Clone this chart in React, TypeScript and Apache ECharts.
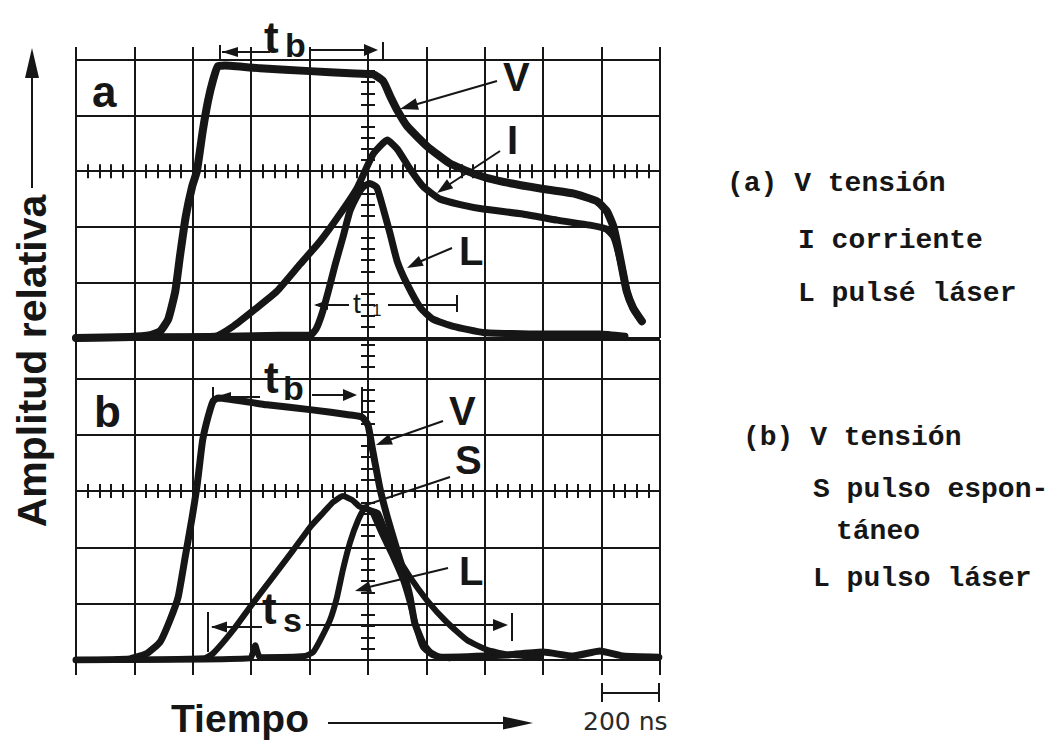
import React, { useEffect, useRef } from "react";
import * as echarts from "echarts";

type P = [number, number];

// x in graticule divisions from the centre line (-5..5), y in divisions from the centre line
const voltageA: P[] = [[-5.0,-3.0],[-4.08,-2.98],[-3.73,-2.95],[-3.56,-2.88],[-3.42,-2.66],[-3.3,-2.16],[-3.22,-1.53],[-3.12,-0.81],[-3.01,-0.27],[-2.93,0.0],[-2.83,0.72],[-2.74,1.26],[-2.65,1.65],[-2.57,1.89],[-2.45,1.9],[-1.85,1.85],[-0.99,1.8],[-0.31,1.76],[0.09,1.74],[0.26,1.62],[0.38,1.35],[0.51,1.08],[0.67,0.81],[1.01,0.45],[1.4,0.14],[1.8,-0.04],[2.26,-0.18],[2.95,-0.31],[3.51,-0.4],[3.92,-0.54],[4.09,-0.72],[4.2,-0.99],[4.26,-1.26],[4.35,-1.74],[4.43,-2.16],[4.54,-2.46],[4.69,-2.7]];
const currentA: P[] = [[-5.0,-3.0],[-3.73,-2.98],[-2.62,-2.97],[-2.31,-2.79],[-1.93,-2.48],[-1.56,-2.16],[-1.16,-1.67],[-0.82,-1.26],[-0.48,-0.77],[-0.19,-0.31],[0.09,0.31],[0.33,0.56],[0.5,0.4],[0.72,0.04],[0.94,-0.27],[1.23,-0.5],[1.58,-0.6],[1.97,-0.68],[2.65,-0.77],[3.24,-0.88],[3.8,-0.97],[4.08,-1.04],[4.2,-1.17],[4.26,-1.35],[4.35,-1.74],[4.43,-2.16],[4.54,-2.46],[4.66,-2.66]];
const laserA: P[] = [[-5.0,-3.0],[-2.88,-2.98],[-1.51,-2.95],[-0.99,-2.95],[-0.89,-2.84],[-0.79,-2.57],[-0.68,-2.16],[-0.57,-1.71],[-0.43,-1.19],[-0.31,-0.72],[-0.19,-0.45],[-0.09,-0.29],[0.03,-0.22],[0.15,-0.29],[0.26,-0.67],[0.38,-1.13],[0.5,-1.62],[0.67,-2.03],[0.9,-2.46],[1.11,-2.66],[1.46,-2.79],[1.97,-2.9],[2.95,-2.93],[3.97,-2.93],[4.4,-2.97]];
const voltageB: P[] = [[-5.0,-3.0],[-4.08,-2.98],[-3.78,-2.88],[-3.56,-2.68],[-3.39,-2.29],[-3.25,-1.88],[-3.13,-1.17],[-3.01,-0.46],[-2.93,0.07],[-2.88,0.5],[-2.83,0.91],[-2.74,1.31],[-2.65,1.6],[-2.57,1.65],[-1.73,1.53],[-0.96,1.44],[-0.31,1.35],[-0.1,1.31],[0.0,1.17],[0.07,0.78],[0.12,0.5],[0.21,0.02],[0.33,-0.46],[0.46,-0.92],[0.6,-1.4],[0.72,-1.88],[0.8,-2.34],[0.94,-2.7],[1.06,-2.86],[1.23,-2.95],[2.38,-2.91],[3.0,-2.86],[3.51,-2.93],[3.97,-2.84],[4.37,-2.93],[4.98,-2.95]];
const spontaneousB: P[] = [[-5.0,-3.0],[-2.8,-2.97],[-2.65,-2.88],[-2.31,-2.47],[-1.97,-1.99],[-1.63,-1.53],[-1.28,-1.05],[-0.99,-0.64],[-0.77,-0.39],[-0.6,-0.2],[-0.43,-0.09],[-0.27,-0.16],[-0.14,-0.28],[0.03,-0.34],[0.17,-0.39],[0.29,-0.69],[0.46,-1.08],[0.72,-1.53],[1.01,-1.94],[1.35,-2.33],[1.7,-2.65],[2.04,-2.82],[2.38,-2.9],[2.95,-2.95]];
const laserB: P[] = [[-5.0,-3.0],[-2.02,-2.97],[-1.93,-2.74],[-1.85,-2.95],[-1.08,-2.93],[-0.94,-2.86],[-0.82,-2.65],[-0.65,-2.29],[-0.53,-1.88],[-0.43,-1.4],[-0.31,-0.92],[-0.17,-0.52],[-0.05,-0.3],[0.07,-0.37],[0.17,-0.6],[0.29,-0.87],[0.43,-1.17],[0.6,-1.58],[0.72,-1.99],[0.84,-2.47],[0.94,-2.77],[1.1,-2.91],[1.4,-2.97]];

const legendA = ["(a) V tensión", "I corriente", "L pulsé láser"];
const legendB = ["(b) V tensión", "S pulso espon-", "táneo", "L pulso láser"];
const xName = "Tiempo";
const yName = "Amplitud relativa";
const scaleName = "200 ns";

const X_MIN = -5, X_MAX = 5;
const A_MIN = -3, A_MAX = 2;
const B_MIN = -3, B_MAX = 2.68;

const INK = "#161616";
const SANS = "'Liberation Sans', Arial, Helvetica, sans-serif";
const MONO = "'Liberation Mono', 'Courier New', monospace";

function mainX(grid: number, position: string, tickLen: number) {
  return {
    type: "value", gridIndex: grid, min: X_MIN, max: X_MAX, interval: 1, position,
    axisLine: { show: false, onZero: false },
    axisTick: { show: true, length: tickLen, lineStyle: { color: INK, width: 2 } },
    axisLabel: { show: false },
    splitLine: { show: true, lineStyle: { color: INK, width: 2 } },
  };
}
function centreX(grid: number, position: string, yIndex: number) {
  return {
    type: "value", gridIndex: grid, min: X_MIN, max: X_MAX, interval: 1, position,
    axisLine: { show: false, onZero: true, onZeroAxisIndex: yIndex },
    axisTick: { show: false },
    minorTick: { show: true, splitNumber: 5, length: 7, lineStyle: { color: INK, width: 2 } },
    axisLabel: { show: false },
    splitLine: { show: false },
  };
}
function mainY(grid: number, min: number, max: number) {
  return {
    type: "value", gridIndex: grid, min, max, interval: 1, position: "left",
    axisLine: { show: false, onZero: false },
    axisTick: { show: false },
    axisLabel: { show: false },
    splitLine: { show: true, lineStyle: { color: INK, width: 2 } },
  };
}
function centreY(grid: number, min: number, max: number, position: string, xIndex: number) {
  return {
    type: "value", gridIndex: grid, min, max, interval: 1, position,
    axisLine: { show: false, onZero: true, onZeroAxisIndex: xIndex },
    axisTick: { show: false },
    minorTick: { show: true, splitNumber: 5, length: 7, lineStyle: { color: INK, width: 2 } },
    axisLabel: { show: false },
    splitLine: { show: false },
  };
}

function curve(data: P[], xi: number, yi: number, width = 7) {
  return {
    type: "line", xAxisIndex: xi, yAxisIndex: yi, data, showSymbol: false, symbol: "none",
    smooth: 0.15, silent: true, z: 3,
    lineStyle: { color: INK, width, cap: "round", join: "round" },
  };
}

function seg(x1: number, y1: number, x2: number, y2: number, w = 2) {
  return { type: "line", silent: true, shape: { x1, y1, x2, y2 }, style: { stroke: INK, lineWidth: w } };
}
function head(tx: number, ty: number, fx: number, fy: number, len = 16, half = 5.5) {
  const dx = tx - fx, dy = ty - fy;
  const d = Math.hypot(dx, dy);
  const ux = dx / d, uy = dy / d;
  const bx = tx - ux * len, by = ty - uy * len;
  return {
    type: "polygon", silent: true,
    shape: { points: [[tx, ty], [bx - uy * half, by + ux * half], [bx + uy * half, by - ux * half]] },
    style: { fill: INK },
  };
}
function txt(text: string, x: number, y: number, size: number, opt: any = {}) {
  return {
    type: "text", x, y, silent: true, rotation: opt.rotation || 0,
    style: {
      text, fontSize: size, fontWeight: opt.weight || "bold", fontFamily: opt.family || SANS,
      fill: opt.fill || INK, align: opt.align || "left", verticalAlign: "middle",
    },
  };
}

export default function App() {
  const ref = useRef<HTMLDivElement>(null);
  useEffect(() => {
    if (!ref.current) return;
    const chart = echarts.init(ref.current, undefined, { renderer: "svg" });
    const graphics: any[] = [
      // panel letters
      txt("a", 92, 91, 44),
      txt("b", 94, 411, 44),
      // t_b (a)
      seg(220, 45, 220, 59), seg(222, 52, 270, 52), head(222, 52, 240, 52, 16, 5),
      txt("t", 264, 37, 44), txt("b", 285, 45, 34),
      seg(310, 50, 368, 50), head(378, 50, 360, 50, 14, 6), seg(383, 42, 383, 59),
      // t1 (a)
      seg(316, 305, 349, 305), head(314, 305, 330, 305, 14, 5),
      txt("t", 353, 303, 28, { weight: "normal" }), txt("1", 372, 310, 17, { weight: "normal" }),
      seg(388, 305, 457, 305), seg(457, 295, 457, 312),
      // curve labels (a)
      txt("V", 503, 77, 40), seg(497, 81, 414, 105), head(400, 109, 414, 105, 18, 6),
      txt("I", 507, 140, 40), seg(500, 151, 447, 186), head(437, 193, 447, 186, 16, 5.5),
      txt("L", 459, 251, 40), seg(452, 248, 419, 262), head(407, 268, 419, 262, 16, 5.5),
      // t_b (b)
      seg(213, 387, 213, 404), seg(215, 397, 260, 397), head(215, 397, 232, 397, 16, 5),
      txt("t", 264, 377, 44), txt("b", 283, 388, 34),
      seg(312, 395, 348, 395), head(357, 395, 342, 395, 14, 6), seg(362, 387, 362, 414),
      // t_s (b)
      seg(208, 612, 208, 652), seg(212, 627, 262, 627), head(211, 627, 228, 627, 16, 5.5),
      txt("t", 262, 608, 44), txt("s", 283, 620, 34),
      seg(306, 625, 497, 625), head(508, 625, 493, 625, 15, 6), seg(512, 613, 512, 641),
      // curve labels (b)
      txt("V", 449, 411, 40), seg(443, 421, 389, 440), head(376, 445, 389, 440, 16, 5.5),
      txt("S", 455, 460, 40), seg(450, 477, 360, 507),
      txt("L", 459, 571, 40), seg(448, 568, 369, 587), head(355, 591, 369, 587, 16, 5.5),
      // scale bar
      seg(602, 693, 659, 693), seg(602, 683, 602, 702), seg(659, 683, 659, 702),
      txt(scaleName, 583, 721, 25, { weight: "normal", family: "'DejaVu Sans', sans-serif", fill: "#2a2a2a" }),
      // x name + arrow
      txt(xName, 171, 718, 39),
      seg(328, 723, 505, 723), head(533, 723, 503, 723, 30, 6.5),
      // y name + arrow
      txt(yName, 32, 361, 41, { rotation: Math.PI / 2, align: "center" }),
      seg(32, 188, 32, 72), head(32, 48, 32, 78, 30, 7),
    ];
    const monoA = [[727, 183], [798, 240], [798, 293]];
    legendA.forEach((s, i) => graphics.push(txt(s, monoA[i][0], monoA[i][1], 28, { family: MONO })));
    const monoB = [[743, 437], [813, 489], [836, 531], [813, 578]];
    legendB.forEach((s, i) => graphics.push(txt(s, monoB[i][0], monoB[i][1], 28, { family: MONO })));

    chart.setOption({
      animation: false,
      backgroundColor: "#ffffff",
      grid: [
        { left: 76, top: 60, width: 584, height: 278 },
        { left: 76, top: 340, width: 584, height: 320 },
      ],
      xAxis: [
        mainX(0, "top", 13), centreX(0, "bottom", 0), centreX(0, "top", 0),
        mainX(1, "bottom", 15), centreX(1, "bottom", 3), centreX(1, "top", 3),
      ],
      yAxis: [
        mainY(0, A_MIN, A_MAX), centreY(0, A_MIN, A_MAX, "left", 0), centreY(0, A_MIN, A_MAX, "right", 0),
        mainY(1, B_MIN, B_MAX), centreY(1, B_MIN, B_MAX, "left", 3), centreY(1, B_MIN, B_MAX, "right", 3),
      ],
      series: [
        curve(voltageA, 0, 0, 8), curve(currentA, 0, 0), curve(laserA, 0, 0),
        curve(voltageB, 3, 3), curve(spontaneousB, 3, 3, 6), curve(laserB, 3, 3, 6),
      ],
      graphic: { elements: graphics },
    });
    return () => chart.dispose();
  }, []);
  return (
    <div
      ref={ref}
      style={{ position: "fixed", left: 0, top: 0, width: 1058, height: 740, background: "#fff" }}
    />
  );
}
